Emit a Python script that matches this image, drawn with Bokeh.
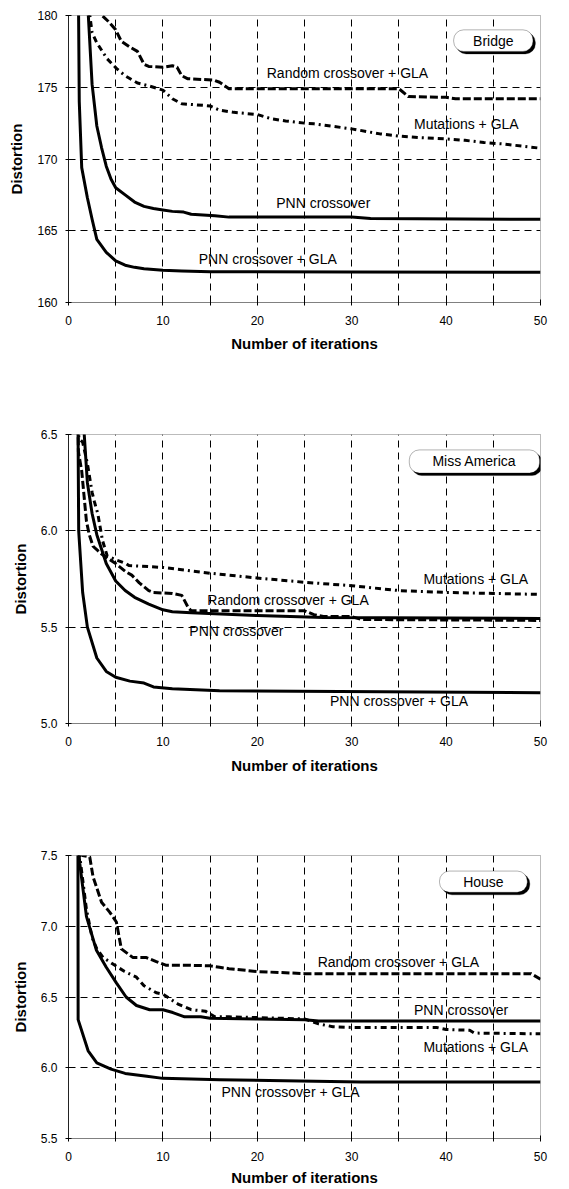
from bokeh.plotting import figure
from bokeh.layouts import column
from bokeh.models import FixedTicker, Label, BoxAnnotation, Range1d
from bokeh.embed import file_html
from bokeh.resources import INLINE

# ---------------- data ----------------
X_TICKS = [0, 5, 10, 15, 20, 25, 30, 35, 40, 45, 50]
X_TICK_LABELS = ["0", "", "10", "", "20", "", "30", "", "40", "", "50"]
X_TITLE = "Number of iterations"
Y_TITLE = "Distortion"

# Bridge
BRIDGE_Y_TICKS = [160, 165, 170, 175, 180]
BRIDGE_Y_TICK_LABELS = ["160", "165", "170", "175", "180"]
BRIDGE_PNN_GLA_X = [1, 1.07, 1.14, 1.4, 2, 2.5, 3, 4, 5, 6, 7, 8, 10, 12, 15, 30, 50]
BRIDGE_PNN_GLA_Y = [190, 180, 174, 169.4, 167.3, 165.8, 164.4, 163.5, 162.9, 162.6, 162.45, 162.35, 162.25, 162.2, 162.15, 162.12, 162.1]
BRIDGE_PNN_X = [2, 2.1, 2.5, 3, 3.5, 4, 4.5, 5, 6, 7, 8, 9, 10, 11, 12.2, 13, 15.5, 17, 30, 32, 50]
BRIDGE_PNN_Y = [182, 180, 175.2, 172.3, 170.8, 169.5, 168.6, 168.0, 167.5, 167.0, 166.7, 166.55, 166.45, 166.35, 166.3, 166.15, 166.05, 165.95, 165.95, 165.85, 165.8]
BRIDGE_RND_X = [3, 3.4, 4.2, 5, 5.6, 6.5, 7.3, 8, 8.5, 10, 11, 11.5, 12, 12.6, 15.4, 16, 17, 35, 36, 40, 41, 50]
BRIDGE_RND_Y = [180.6, 180.1, 179.6, 179.0, 178.2, 177.8, 177.5, 176.6, 176.45, 176.4, 176.5, 176.4, 175.8, 175.6, 175.5, 175.35, 174.9, 174.9, 174.35, 174.3, 174.2, 174.2]
BRIDGE_MUT_X = [2.2, 2.5, 3, 4.07, 5.1, 6, 7.3, 8.5, 9, 10, 11, 12, 13, 15, 16, 17.5, 20, 21.5, 23, 25, 26, 30, 33, 35, 37, 40, 42, 44, 46, 48, 50]
BRIDGE_MUT_Y = [180.3, 178.8, 178.1, 177.0, 176.3, 175.8, 175.3, 175.1, 175.0, 174.8, 174.2, 173.85, 173.8, 173.7, 173.4, 173.25, 173.1, 172.8, 172.65, 172.5, 172.45, 172.1, 171.75, 171.6, 171.5, 171.4, 171.3, 171.15, 171.05, 170.9, 170.75]

# Miss America
MISS_Y_TICKS = [5.0, 5.5, 6.0, 6.5]
MISS_Y_TICK_LABELS = ["5.0", "5.5", "6.0", "6.5"]
MISS_PNN_GLA_X = [1, 1.08, 1.5, 2, 3, 4, 5, 6.5, 8, 9, 11, 16, 50]
MISS_PNN_GLA_Y = [6.6, 6.0, 5.68, 5.5, 5.34, 5.27, 5.24, 5.22, 5.21, 5.19, 5.18, 5.17, 5.16]
MISS_PNN_X = [1.6, 2, 2.5, 3, 4, 5, 6, 7, 8.5, 10, 11, 13, 20, 27, 50]
MISS_PNN_Y = [6.55, 6.25, 6.09, 5.98, 5.83, 5.74, 5.69, 5.655, 5.62, 5.59, 5.58, 5.575, 5.56, 5.55, 5.545]
MISS_RND_X = [1, 1.05, 1.4, 1.65, 1.9, 2.2, 2.6, 3.5, 5, 6, 6.7, 7.5, 8.5, 9, 11, 12, 12.7, 13, 25, 26, 27, 30, 31, 50]
MISS_RND_Y = [6.6, 6.41, 6.31, 6.18, 6.05, 5.98, 5.92, 5.88, 5.83, 5.79, 5.77, 5.73, 5.69, 5.68, 5.675, 5.665, 5.6, 5.585, 5.585, 5.565, 5.555, 5.555, 5.54, 5.535]
MISS_MUT_X = [1, 1.1, 1.5, 2, 2.5, 2.75, 3.1, 3.6, 4.1, 5, 6.1, 6.4, 10, 15, 20, 25, 30, 35, 40, 45, 50]
MISS_MUT_Y = [6.6, 6.48, 6.46, 6.35, 6.2, 6.15, 6.09, 5.95, 5.87, 5.85, 5.83, 5.82, 5.81, 5.78, 5.755, 5.733, 5.715, 5.69, 5.68, 5.675, 5.67]

# House
HOUSE_Y_TICKS = [5.5, 6.0, 6.5, 7.0, 7.5]
HOUSE_Y_TICK_LABELS = ["5.5", "6.0", "6.5", "7.0", "7.5"]
HOUSE_PNN_GLA_X = [1, 1.02, 2.08, 3, 4.5, 6, 8.3, 10, 16, 31, 50]
HOUSE_PNN_GLA_Y = [7.6, 6.34, 6.12, 6.035, 5.99, 5.96, 5.94, 5.925, 5.915, 5.9, 5.9]
HOUSE_PNN_X = [1, 1.2, 1.9, 2.96, 4, 5.07, 6.1, 7.2, 8.6, 10, 11.05, 12.3, 14, 15, 20, 25, 26.5, 50]
HOUSE_PNN_Y = [7.6, 7.44, 7.07, 6.83, 6.71, 6.6, 6.5, 6.44, 6.41, 6.41, 6.39, 6.36, 6.36, 6.35, 6.345, 6.34, 6.33, 6.33]
HOUSE_RND_X = [1, 1.5, 2.25, 2.6, 3.5, 4.36, 5.07, 5.6, 6.8, 8.2, 9.3, 10.3, 12.5, 15, 16, 17, 20, 25, 49, 50]
HOUSE_RND_Y = [7.6, 7.5, 7.49, 7.35, 7.17, 7.1, 7.03, 6.84, 6.78, 6.78, 6.75, 6.725, 6.725, 6.72, 6.71, 6.7, 6.68, 6.665, 6.665, 6.625]
HOUSE_MUT_X = [1, 1.37, 1.9, 2.5, 3, 3.66, 5, 5.95, 7.2, 8, 9.3, 10, 11.6, 12.3, 13, 14.5, 15.5, 17, 25, 26.5, 28, 30, 39, 40, 42.5, 43, 50]
HOUSE_MUT_Y = [7.6, 7.4, 7.12, 6.92, 6.84, 6.78, 6.72, 6.68, 6.64, 6.58, 6.53, 6.52, 6.45, 6.43, 6.41, 6.4, 6.36, 6.36, 6.345, 6.31, 6.29, 6.285, 6.285, 6.27, 6.265, 6.245, 6.24]

FONT = "Liberation Sans"

PANELS = [
    dict(name="Bridge", yr=(160, 180), yt=BRIDGE_Y_TICKS, ytl=BRIDGE_Y_TICK_LABELS,
         series=[(BRIDGE_PNN_GLA_X, BRIDGE_PNN_GLA_Y, "solid"), (BRIDGE_PNN_X, BRIDGE_PNN_Y, "solid"),
                 (BRIDGE_RND_X, BRIDGE_RND_Y, "rnd"), (BRIDGE_MUT_X, BRIDGE_MUT_Y, "mut")],
         labels=[("Random crossover + GLA", 21.0, 176.0), ("Mutations + GLA", 36.6, 172.45),
                 ("PNN crossover", 22.0, 166.9), ("PNN crossover + GLA", 13.8, 163.0)],
         box=(40.8, 49.2, 177.5, 179.0),
         h=390, top=15, bottom=88, left=68, right=13, fw=485, lab_st=10, tit_st=7),
    dict(name="Miss America", yr=(5.0, 6.5), yt=MISS_Y_TICKS, ytl=MISS_Y_TICK_LABELS,
         series=[(MISS_PNN_GLA_X, MISS_PNN_GLA_Y, "solid"), (MISS_PNN_X, MISS_PNN_Y, "solid"),
                 (MISS_RND_X, MISS_RND_Y, "rnd"), (MISS_MUT_X, MISS_MUT_Y, "mut")],
         labels=[("Mutations + GLA", 37.6, 5.75), ("Random crossover + GLA", 14.7, 5.64),
                 ("PNN crossover", 12.8, 5.48), ("PNN crossover + GLA", 27.7, 5.115)],
         box=(36.1, 49.9, 6.30, 6.42),
         h=400, top=44, bottom=67, left=65, right=16, fw=485, lab_st=10, tit_st=8),
    dict(name="House", yr=(5.5, 7.5), yt=HOUSE_Y_TICKS, ytl=HOUSE_Y_TICK_LABELS,
         series=[(HOUSE_PNN_GLA_X, HOUSE_PNN_GLA_Y, "solid"), (HOUSE_PNN_X, HOUSE_PNN_Y, "solid"),
                 (HOUSE_RND_X, HOUSE_RND_Y, "rnd"), (HOUSE_MUT_X, HOUSE_MUT_Y, "mut")],
         labels=[("Random crossover + GLA", 26.4, 6.747), ("PNN crossover", 36.6, 6.41),
                 ("Mutations + GLA", 37.6, 6.15), ("PNN crossover + GLA", 16.2, 5.83)],
         box=(39.3, 48.6, 7.24, 7.39),
         h=398, top=65, bottom=50, left=67, right=26, fw=473, lab_st=10, tit_st=5),
]

STYLES = {
    "solid": dict(line_dash="solid", line_width=3),
    "rnd": dict(line_dash="8 3", line_width=3),
    "mut": dict(line_dash="6 4 6 4 2 4", line_width=3),
}


def make_panel(cfg):
    p = figure(width=cfg["left"] + cfg["fw"] + cfg["right"], height=cfg["h"],
               output_backend="svg", toolbar_location=None,
               x_range=Range1d(0, 50), y_range=Range1d(*cfg["yr"]),
               min_border_top=cfg["top"], min_border_bottom=cfg["bottom"],
               min_border_left=cfg["left"], min_border_right=cfg["right"])
    p.background_fill_color = "white"
    p.border_fill_color = "white"
    p.outline_line_color = "#777777"
    p.outline_line_dash = "1 1"
    p.outline_line_width = 1

    # axes
    p.xaxis.ticker = FixedTicker(ticks=X_TICKS)
    p.xaxis.major_label_overrides = dict(zip(X_TICKS, X_TICK_LABELS))
    p.yaxis.ticker = FixedTicker(ticks=cfg["yt"])
    p.yaxis.major_label_overrides = dict(zip(cfg["yt"], cfg["ytl"]))
    for ax in (p.xaxis, p.yaxis):
        ax.minor_tick_line_color = None
        ax.major_tick_in = 3
        ax.major_tick_out = 3
        ax.major_tick_line_color = "black"
        ax.major_label_text_font = FONT
        ax.major_label_text_font_size = "12px"
        ax.major_label_text_color = "black"
        ax.axis_label_text_font = FONT
        ax.axis_label_text_font_size = "15px"
        ax.axis_label_text_font_style = "bold"
        ax.axis_label_text_color = "black"
    p.xaxis.axis_line_color = "#444444"
    p.xaxis.axis_line_dash = "1 1"
    p.yaxis.axis_line_color = "#222222"
    p.xaxis.major_label_standoff = cfg["lab_st"]
    p.xaxis.axis_label_standoff = cfg["tit_st"]
    p.yaxis.major_label_standoff = 8
    p.yaxis.axis_label_standoff = 9
    p.xaxis.axis_label = X_TITLE
    p.yaxis.axis_label = Y_TITLE

    # grid
    p.xgrid.ticker = FixedTicker(ticks=X_TICKS[1:-1])
    p.ygrid.ticker = FixedTicker(ticks=cfg["yt"][1:-1])
    for g in (p.xgrid, p.ygrid):
        g.grid_line_color = "black"
        g.grid_line_dash = "7 5"
        g.grid_line_width = 1

    for xs, ys, st in cfg["series"]:
        p.line(xs, ys, color="black", line_join="round", **STYLES[st])

    for txt, x, y in cfg["labels"]:
        p.add_layout(Label(x=x, y=y, text=txt, text_font=FONT, text_font_size="14px",
                           text_baseline="middle", text_align="left", text_color="black"))

    # rounded name box with shadow
    l, r, b, t = cfg["box"]
    fh = cfg["h"] - cfg["top"] - cfg["bottom"]
    dx = 2.5 * 50 / cfg["fw"]
    dy = 2.5 * (cfg["yr"][1] - cfg["yr"][0]) / fh
    p.add_layout(BoxAnnotation(left=l + dx, right=r + dx, bottom=b - dy, top=t - dy,
                               fill_color="black", fill_alpha=1, line_color="black",
                               border_radius=10))
    p.add_layout(BoxAnnotation(left=l, right=r, bottom=b, top=t,
                               fill_color="white", fill_alpha=1, line_color="black",
                               line_width=1, border_radius=10))
    p.add_layout(Label(x=(l + r) / 2, y=(b + t) / 2, text=cfg["name"], text_font=FONT,
                       text_font_size="14px", text_baseline="middle", text_align="center",
                       text_color="black"))
    return p


figs = [make_panel(c) for c in PANELS]
layout = column(*figs, spacing=0)

open("out.html", "w").write(file_html(layout, INLINE))
